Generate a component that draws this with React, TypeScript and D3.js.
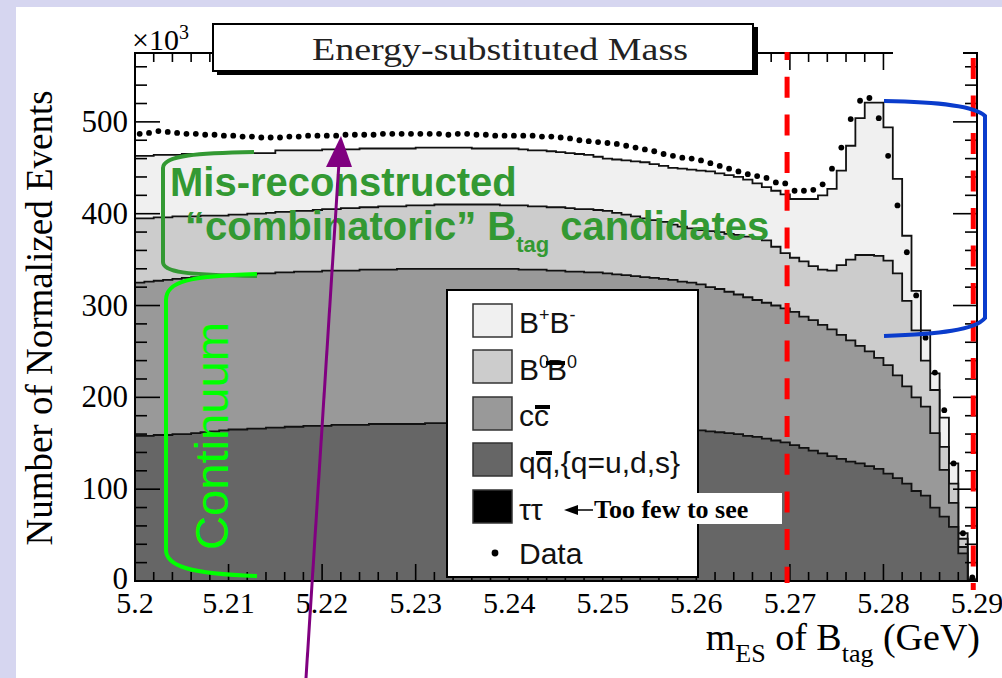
import * as d3 from 'd3';
import React from 'react';

const width = 1002;
const height = 678;
const frame = { left: 135, right: 977, top: 53, bottom: 581 };

const binLow = 5.2;
const binWidth = 0.001;

// per-bin event counts (x10^3), 90 bins of 1 MeV from 5.200 to 5.290 GeV
const qqbar = [
  158, 158, 159, 159, 160, 160, 161, 162, 163, 164,
  165, 165, 166, 166, 167, 167, 168, 168, 169, 169,
  169, 170, 170, 170, 170, 171, 171, 171, 171, 171,
  171, 172, 172, 172, 172, 172, 172, 172, 171, 171,
  171, 171, 171, 170, 170, 170, 169, 169, 169, 168,
  168, 168, 167, 167, 167, 166, 166, 165, 165, 164,
  164, 163, 162, 161, 160, 158, 157, 155, 153, 151,
  148, 145, 142, 139, 136, 133, 130, 128, 125, 122,
  117, 112, 106, 98, 93, 80, 70, 59, 30, 1,
];
const ccbar = [
  167, 168, 168, 169, 169, 170, 170, 170, 169, 169,
  168, 169, 168, 169, 168, 169, 168, 169, 168, 168,
  169, 168, 168, 168, 169, 168, 168, 168, 169, 169,
  169, 168, 168, 168, 168, 168, 168, 168, 169, 169,
  169, 168, 168, 169, 168, 168, 168, 168, 167, 168,
  167, 166, 166, 165, 164, 164, 163, 163, 161, 161,
  159, 157, 156, 154, 152, 151, 149, 148, 147, 146,
  145, 143, 142, 140, 138, 135, 132, 128, 125, 121,
  118, 112, 106, 102, 97, 81, 51, 26, 7, 0,
];
const b0b0bar = [
  70, 69, 69, 68, 68, 67, 66, 66, 66, 65,
  66, 65, 66, 65, 66, 66, 66, 66, 66, 67,
  67, 67, 68, 68, 68, 68, 69, 69, 68, 69,
  69, 69, 70, 70, 70, 70, 70, 70, 70, 69,
  69, 70, 69, 69, 69, 69, 69, 68, 69, 68,
  68, 67, 66, 65, 64, 63, 62, 60, 60, 59,
  59, 61, 62, 63, 65, 66, 67, 68, 64, 60,
  59, 60, 59, 60, 64, 76, 88, 99, 105, 111,
  114, 111, 93, 73, 50, 47, 25, 21, 9, 0,
];
const bpbm = [
  68, 68, 68, 68, 67, 68, 68, 67, 67, 68,
  67, 67, 66, 66, 65, 67, 67, 66, 66, 65,
  65, 65, 64, 64, 64, 64, 63, 63, 63, 62,
  63, 63, 62, 62, 62, 62, 61, 61, 61, 62,
  62, 61, 61, 61, 61, 60, 60, 60, 59, 58,
  57, 58, 59, 60, 61, 61, 61, 62, 63, 64,
  65, 65, 64, 64, 63, 62, 60, 58, 61, 64,
  64, 68, 73, 81, 89, 103, 124, 149, 166, 167,
  145, 103, 71, 43, 33, 18, 32, 22, 6, 1,
];
const dataCounts = [
  487, 488, 490, 489, 488, 487, 487, 486, 486, 485,
  485, 484, 484, 483, 483, 483, 484, 484, 485, 485,
  485, 485, 486, 486, 486, 486, 487, 487, 487, 487,
  487, 487, 487, 486, 487, 487, 486, 486, 485, 485,
  485, 485, 485, 484, 484, 483, 482, 480, 479, 478,
  477, 476, 474, 472, 470, 468, 465, 463, 461, 460,
  458, 455, 452, 449, 446, 443, 441, 439, 434, 433,
  425, 425, 426, 432, 449, 472, 503, 523, 526, 504,
  463, 409, 358, 311, 265, 227, 186, 128, 52, 4,
];

const xTickValues = [5.2, 5.21, 5.22, 5.23, 5.24, 5.25, 5.26, 5.27, 5.28, 5.29];
const xTickLabels = ['5.2', '5.21', '5.22', '5.23', '5.24', '5.25', '5.26', '5.27', '5.28', '5.29'];
const yTickValues = [0, 100, 200, 300, 400, 500];
const yTickLabels = ['0', '100', '200', '300', '400', '500'];

const stackKeys = ['qq', 'cc', 'b0', 'bp'];
const fills: Record<string, string> = { qq: '#666666', cc: '#999999', b0: '#cccccc', bp: '#f0f0f0' };

const serif = '"Liberation Serif", "Times New Roman", serif';
const sans = '"Liberation Sans", Arial, sans-serif';

const App = () => {
  const x = d3.scaleLinear().domain([5.2, 5.29]).range([frame.left, frame.right]);
  const y = d3.scaleLinear().domain([0, 575]).range([frame.bottom, frame.top]);

  const n = qqbar.length;
  const edges = d3.range(n + 1).map((i) => x(binLow + i * binWidth));
  const rows = qqbar.map((_, i) => ({ qq: qqbar[i], cc: ccbar[i], b0: b0b0bar[i], bp: bpbm[i] }));
  const series = d3.stack<any>().keys(stackKeys)(rows);

  const area = d3
    .area<[number, number]>()
    .x((p) => p[0])
    .y0(y(0))
    .y1((p) => y(p[1]))
    .curve(d3.curveStepAfter);
  const line = d3
    .line<[number, number]>()
    .x((p) => p[0])
    .y((p) => y(p[1]))
    .curve(d3.curveStepAfter);

  const layers = series.map((s) => {
    const pts: [number, number][] = s.map((d, i) => [edges[i], d[1]]);
    pts.push([edges[n], s[n - 1][1]]);
    const outline: [number, number][] = [[edges[0], 0], ...pts, [edges[n], 0]];
    return { key: s.key, fillPath: area(pts) || '', linePath: line(outline) || '' };
  });

  const xMinor = d3.range(0, 46).map((i) => binLow + i * 0.002);
  const yMinor = d3.range(0, 29).map((i) => i * 20);

  const legendY = [304, 350, 397, 443, 490];
  const legendFill = ['#f0f0f0', '#cccccc', '#999999', '#666666', '#000000'];

  return (
    <svg
      width={width}
      height={height}
      style={{ position: 'absolute', left: 0, top: 0 }}
      xmlns="http://www.w3.org/2000/svg"
    >
      <rect x={0} y={0} width={width} height={height} fill="#d6d6f0" />
      <rect x={16} y={7} width={width - 16} height={height - 7} fill="#ffffff" />

      {/* stacked histograms, top layer first */}
      {[...layers].reverse().map((l) => (
        <g key={l.key}>
          <path d={l.fillPath} fill={fills[l.key]} />
          <path d={l.linePath} fill="none" stroke="#111" strokeWidth={1.8} />
        </g>
      ))}

      {/* data points */}
      {dataCounts.map((v, i) => (
        <circle key={i} cx={(edges[i] + edges[i + 1]) / 2} cy={y(v)} r={2.9} fill="#000" />
      ))}

      {/* frame */}
      <rect
        x={frame.left}
        y={frame.top}
        width={frame.right - frame.left}
        height={frame.bottom - frame.top}
        fill="none"
        stroke="#000"
        strokeWidth={2}
      />
      {xMinor.map((v, i) => {
        const major = i % 5 === 0;
        const len = major ? 17 : 9;
        return (
          <g key={'xt' + i} stroke="#000" strokeWidth={1.6}>
            <line x1={x(v)} x2={x(v)} y1={frame.bottom} y2={frame.bottom - len} />
            <line x1={x(v)} x2={x(v)} y1={frame.top} y2={frame.top + len} />
          </g>
        );
      })}
      {yMinor.map((v, i) => {
        const major = i % 5 === 0;
        return (
          <g key={'yt' + i} stroke="#000" strokeWidth={1.6}>
            <line x1={frame.left} x2={frame.left + (major ? 25 : 12)} y1={y(v)} y2={y(v)} />
            <line x1={frame.right} x2={frame.right - (major ? 24 : 12)} y1={y(v)} y2={y(v)} />
          </g>
        );
      })}

      {/* tick labels */}
      {xTickValues.map((v, i) => (
        <text key={'xl' + i} x={x(v)} y={613} textAnchor="middle" fontFamily={serif} fontSize={30} fill="#000">
          {xTickLabels[i]}
        </text>
      ))}
      {yTickValues.map((v, i) => (
        <text
          key={'yl' + i}
          x={128}
          y={y(v) + (i === 0 ? 8 : 10)}
          textAnchor="end"
          fontFamily={serif}
          fontSize={31}
          fill="#000"
        >
          {yTickLabels[i]}
        </text>
      ))}
      <text x={132} y={50} fontFamily={serif} fontSize={30} fill="#000">
        ×10
        <tspan dy={-11} fontSize={20}>
          3
        </tspan>
      </text>

      {/* axis titles */}
      <text
        transform="translate(52, 318) rotate(-90)"
        textAnchor="middle"
        fontFamily={serif}
        fontSize={37}
        fill="#000"
      >
        Number of Normalized Events
      </text>
      <text x={980} y={650} textAnchor="end" fontFamily={serif} fontSize={38} fill="#000">
        m
        <tspan dy={12} fontSize={26}>
          ES
        </tspan>
        <tspan dy={-12}> of B</tspan>
        <tspan dy={12} fontSize={26}>
          tag
        </tspan>
        <tspan dy={-12}> (GeV)</tspan>
      </text>

      {/* mask over top axis */}
      <rect x={893} y={44} width={70} height={34} fill="#fff" />

      {/* title box */}
      <rect x={217} y={27} width={541} height={48} fill="#000" />
      <rect x={213} y={24} width={540} height={47} fill="#fff" stroke="#000" strokeWidth={2} />
      <text
        x={312}
        y={60}
        fontFamily={serif}
        fontSize={32}
        fill="#222"
        textLength={376}
        lengthAdjust="spacingAndGlyphs"
      >
        Energy-substituted Mass
      </text>

      {/* legend */}
      <rect x={447} y={290} width={251} height={287} fill="#fff" stroke="#000" strokeWidth={2} />
      {legendY.map((ly, i) => (
        <rect key={'lg' + i} x={473} y={ly} width={39} height={33} fill={legendFill[i]} stroke="#333" strokeWidth={1.5} />
      ))}
      <g fontFamily={sans} fontSize={30} fill="#111">
        <text x={519} y={333}>
          B<tspan dy={-12} fontSize={18}>+</tspan>
          <tspan dy={12}>B</tspan>
          <tspan dy={-12} fontSize={18}>-</tspan>
        </text>
        <text x={519} y={380}>
          B<tspan dy={-12} fontSize={18}>0</tspan>
          <tspan dy={12} dx={-2}>B</tspan>
          <tspan dy={-12} fontSize={18}>0</tspan>
        </text>
        <text x={519} y={426}>cc</text>
        <text x={519} y={473}>qq,{'{'}q=u,d,s{'}'}</text>
        <text x={519} y={520}>ττ</text>
        <text x={519} y={564}>Data</text>
      </g>
      <rect x={546} y={361} width={19} height={4} fill="#000" />
      <rect x={535} y={405} width={15} height={4} fill="#000" />
      <rect x={536} y={451} width={16} height={4} fill="#000" />
      <circle cx={495} cy={553} r={3.4} fill="#000" />

      {/* too few to see */}
      <rect x={590} y={493} width={192} height={31} fill="#fff" />
      <line x1={574} x2={593} y1={510} y2={510} stroke="#000" strokeWidth={1.5} />
      <path d="M564,510 L578,505 L578,515 Z" fill="#000" />
      <text x={594} y={518} fontFamily={serif} fontWeight="bold" fontSize={26} fill="#000">
        Too few to see
      </text>

      {/* red dashed signal window lines */}
      <line
        x1={x(5.2697)}
        x2={x(5.2697)}
        y1={52}
        y2={583}
        stroke="#ff0000"
        strokeWidth={5}
        strokeDasharray="21,16.7"
        strokeDashoffset={13}
      />
      <line
        x1={x(5.2896)}
        x2={x(5.2896)}
        y1={58}
        y2={590}
        stroke="#ff0000"
        strokeWidth={5}
        strokeDasharray="21,16.5"
        strokeDashoffset={0}
      />

      {/* blue bracket */}
      <path
        d="M884,101 C940,102 975,106 985,116 L985,318 C975,330 940,334 884,336"
        fill="none"
        stroke="#0a3ccc"
        strokeWidth={4}
      />

      {/* dark green bracket */}
      <path
        d="M254,152 C200,153 163,155 163,168 L163,262 C163,272 185,275 257,276"
        fill="none"
        stroke="#339933"
        strokeWidth={4}
      />
      {/* bright green bracket */}
      <path
        d="M257,274 C190,276 166,281 166,300 L166,550 C166,566 190,574 257,576"
        fill="none"
        stroke="#00ff00"
        strokeWidth={4}
      />

      <text x={170} y={196} fontFamily={sans} fontWeight="bold" fontSize={40} fill="#339933">
        Mis-reconstructed
      </text>
      <text x={185} y={240} fontFamily={sans} fontWeight="bold" fontSize={40} fill="#339933">
        “combinatoric” B
        <tspan dy={12} fontSize={22}>
          tag
        </tspan>
        <tspan dy={-12}> candidates</tspan>
      </text>

      <text
        transform="translate(228, 550) rotate(-90)"
        fontFamily={sans}
        fontSize={46}
        fill="#00ff00"
        textLength={228}
        lengthAdjust="spacingAndGlyphs"
      >
        Continuum
      </text>

      {/* purple arrow */}
      <line x1={306} y1={678} x2={339} y2={162} stroke="#800080" strokeWidth={3} />
      <path d="M341,136 L326,167 L352,167 Z" fill="#800080" />
    </svg>
  );
};

export default App;
